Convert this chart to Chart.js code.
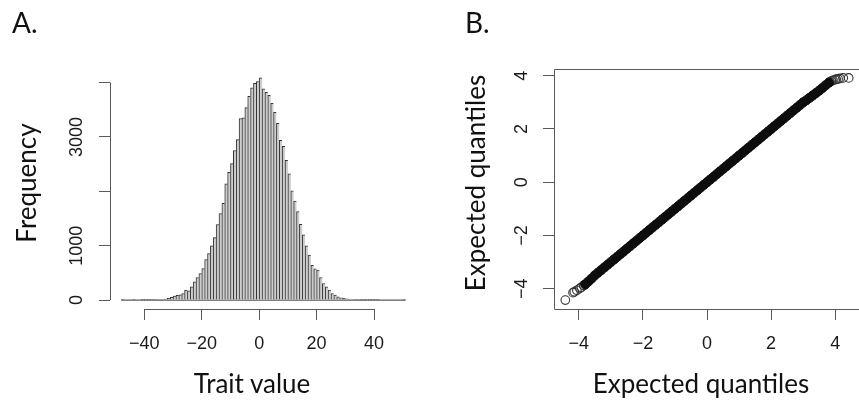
<!DOCTYPE html>
<html>
<head>
<meta charset="utf-8">
<script src="https://cdn.jsdelivr.net/npm/chart.js@4.4.1/dist/chart.umd.min.js"></script>
<style>
  html, body { margin: 0; padding: 0; background: #fff; overflow: hidden; }
  #wrap { position: relative; width: 859px; height: 406px; overflow: hidden; }
  #boxA { position: absolute; left: 0; top: 0; width: 430px; height: 406px; }
  #boxB { position: absolute; left: 430px; top: 0; width: 440px; height: 406px; }
  .lbl { position: absolute; font-family: Lato, sans-serif; color: #111; white-space: nowrap; }
  .panel { font-size: 28px; line-height: 28px; top: 8px; }
  .xt { font-size: 26px; line-height: 26px; top: 370px; width: 300px; text-align: center; }
  .yt { font-size: 26px; line-height: 26px; width: 300px; height: 26px; text-align: center; transform: rotate(-90deg); }
</style>
</head>
<body>
<div id="wrap">
  <div id="boxA"><canvas id="histChart"></canvas></div>
  <div id="boxB"><canvas id="qqChart"></canvas></div>
  <div class="lbl panel" style="left:12px">A.</div>
  <div class="lbl panel" style="left:465px">B.</div>
  <div class="lbl xt" style="left:102px">Trait value</div>
  <div class="lbl xt" style="left:551px">Expected quantiles</div>
  <div class="lbl yt" style="left:-124px; top:170px">Frequency</div>
  <div class="lbl yt" style="left:325px; top:170px">Expected quantiles</div>
</div>
<script>
// Panel A: histogram of trait values, bins of width 1 starting at binStart
const binStart = -48;
const binCounts = [
  1, 0, 0, 0, 1, 0, 0, 1, 2, 1, 2, 3, 5, 7, 11, 18, 31, 49, 73, 88,
  96, 122, 183, 171, 245, 336, 415, 489, 581, 746, 856, 1000, 1150, 1390, 1590, 1780, 2140, 2350, 2510, 2750,
  2950, 3340, 3350, 3540, 3745, 3905, 3985, 4020, 4086, 3884, 3820, 3765, 3620, 3455, 3250, 2936, 2826, 2569,
  2320, 2010, 1820, 1630, 1395, 1200, 1000, 826, 640, 575, 550, 416, 306, 245, 183, 122, 92, 61, 43, 31,
  24, 18, 12, 8, 6, 4, 3, 2, 1, 1, 1, 1, 0, 0, 0, 0, 0, 0, 0, 0, 1
];
const histXTicks = [-40, -20, 0, 20, 40];
const histYTicks = [0, 1000, 2000, 3000, 4000];
const histYLabels = ['0', '1000', '', '3000', ''];

// Panel B: normal QQ plot, dense middle part and the sparse extreme points
const qqX = [
  -3.8, -3.7, -3.6, -3.5, -3.4, -3.3, -3.2, -3.1, -3.0, -2.9, -2.8, -2.7, -2.6, -2.5, -2.4, -2.3,
  -2.2, -2.1, -2.0, -1.9, -1.8, -1.7, -1.6, -1.5, -1.4, -1.3, -1.2, -1.1, -1.0, -0.9, -0.8, -0.7,
  -0.6, -0.5, -0.4, -0.3, -0.2, -0.1, 0.0, 0.1, 0.2, 0.3, 0.4, 0.5, 0.6, 0.7, 0.8, 0.9,
  1.0, 1.1, 1.2, 1.3, 1.4, 1.5, 1.6, 1.7, 1.8, 1.9, 2.0, 2.1, 2.2, 2.3, 2.4, 2.5,
  2.6, 2.7, 2.8, 2.9, 3.0, 3.1, 3.2, 3.3, 3.4, 3.5, 3.6, 3.7, 3.8
];
const qqY = [
  -3.84, -3.73, -3.62, -3.5, -3.4, -3.3, -3.2, -3.1, -3.0, -2.9, -2.8, -2.7, -2.6, -2.5, -2.4, -2.3,
  -2.2, -2.1, -2.0, -1.9, -1.8, -1.7, -1.6, -1.5, -1.4, -1.3, -1.2, -1.1, -1.0, -0.9, -0.8, -0.7,
  -0.6, -0.5, -0.4, -0.3, -0.2, -0.1, 0.0, 0.1, 0.2, 0.3, 0.4, 0.5, 0.6, 0.7, 0.8, 0.9,
  1.0, 1.1, 1.2, 1.3, 1.4, 1.5, 1.6, 1.7, 1.8, 1.9, 2.0, 2.1, 2.2, 2.3, 2.4, 2.5,
  2.6, 2.7, 2.8, 2.9, 3.0, 3.08, 3.17, 3.26, 3.35, 3.44, 3.54, 3.64, 3.74
];
const tailX = [-4.42, -4.18, -4.14, -4.06, -3.97, -3.92, -3.85, 3.83, 3.88, 3.93, 3.99, 4.03, 4.09, 4.15, 4.25, 4.42];
const tailY = [-4.43, -4.15, -4.12, -4.06, -3.99, -3.95, -3.88, 3.76, 3.80, 3.83, 3.85, 3.87, 3.88, 3.90, 3.92, 3.92];
const qqTicks = [-4, -2, 0, 2, 4];

// R style axis range: data range widened by 4% on each side
function rRange(lo, hi) {
    const d = (hi - lo) * 0.04;
    return [lo - d, hi + d];
}
const fmt = v => v < 0 ? '\u2212' + Math.abs(v) : String(v);

const tickFont = { family: 'Liberation Sans', size: 18 };
const tickColor = '#1a1a1a';
const lineGrey = '#5a5a5a';

// draws the R axis lines: from first to last tick, or a box around the plot
const rAxes = {
    id: 'rAxes',
    afterDraw(chart, args, opts) {
        const { ctx, chartArea: a, scales: { x, y } } = chart;
        ctx.save();
        ctx.strokeStyle = lineGrey;
        ctx.lineWidth = 1;
        ctx.beginPath();
        if (opts.box) {
            ctx.rect(Math.round(a.left) + 0.5, Math.round(a.top) + 0.5, a.right - a.left, a.bottom - a.top);
        } else {
            const b = Math.round(a.bottom) + 0.5, l = Math.round(a.left) + 0.5;
            const xt = x.ticks, yt = y.ticks;
            ctx.moveTo(x.getPixelForValue(xt[0].value), b);
            ctx.lineTo(x.getPixelForValue(xt[xt.length - 1].value), b);
            ctx.moveTo(l, y.getPixelForValue(yt[0].value));
            ctx.lineTo(l, y.getPixelForValue(yt[yt.length - 1].value));
        }
        ctx.stroke();
        ctx.restore();
    }
};

const tickGrid = { drawOnChartArea: false, drawTicks: true, tickLength: 11, color: lineGrey, offset: false };

// Panel A
const binMids = binCounts.map((c, i) => binStart + i + 0.5);
const histX = rRange(binStart, binStart + binCounts.length);
const histY = rRange(0, Math.max(...binCounts));

new Chart(document.getElementById('histChart'), {
    type: 'bar',
    data: {
        datasets: [{
            data: binMids.map((m, i) => ({ x: m, y: binCounts[i] })),
            backgroundColor: '#cdcdcd',
            borderColor: '#333',
            borderWidth: { left: 1, right: 0, top: 1, bottom: 0 },
            borderSkipped: false,
            barPercentage: 1,
            categoryPercentage: 1
        }, {
            type: 'line',
            data: [{ x: binStart, y: 0 }, { x: binStart + binCounts.length, y: 0 }],
            borderColor: '#333',
            borderWidth: 1,
            pointRadius: 0
        }]
    },
    options: {
        responsive: true,
        maintainAspectRatio: false,
        animation: false,
        layout: { padding: { top: 69, left: 0, right: 13, bottom: 0 } },
        plugins: { legend: { display: false }, tooltip: { enabled: false }, rAxes: { box: false } },
        scales: {
            x: {
                type: 'linear', min: histX[0], max: histX[1], offset: false,
                afterFit: s => { s.height = 97; },
                afterBuildTicks: s => { s.ticks = histXTicks.map(v => ({ value: v })); },
                grid: tickGrid,
                border: { display: false },
                ticks: { color: tickColor, font: tickFont, padding: 13, maxRotation: 0, autoSkip: false, callback: fmt }
            },
            y: {
                type: 'linear', min: histY[0], max: histY[1],
                afterFit: s => { s.width = 110; },
                afterBuildTicks: s => { s.ticks = histYTicks.map(v => ({ value: v })); },
                grid: tickGrid,
                border: { display: false },
                ticks: { color: tickColor, font: tickFont, padding: 1.5, minRotation: 90, crossAlign: 'center', autoSkip: false,
                         callback: (v, i) => histYLabels[i] }
            }
        }
    },
    plugins: [rAxes]
});

// Panel B
const allX = qqX.concat(tailX), allY = qqY.concat(tailY);
const qqXr = rRange(Math.min(...allX), Math.max(...allX));
const qqYr = rRange(Math.min(...allY), Math.max(...allY));

new Chart(document.getElementById('qqChart'), {
    type: 'scatter',
    data: {
        datasets: [{
            data: qqX.map((v, i) => ({ x: v, y: qqY[i] })),
            pointRadius: 4.6,
            pointBorderWidth: 1,
            pointBackgroundColor: '#0d0d0d',
            pointBorderColor: '#0d0d0d'
        }, {
            data: tailX.map((v, i) => ({ x: v, y: tailY[i] })),
            pointRadius: 4.3,
            pointBorderWidth: 1.1,
            pointBackgroundColor: 'rgba(0,0,0,0)',
            pointBorderColor: '#333'
        }]
    },
    options: {
        responsive: true,
        maintainAspectRatio: false,
        animation: false,
        layout: { padding: { top: 69, left: 0, right: 10, bottom: 0 } },
        plugins: { legend: { display: false }, tooltip: { enabled: false }, rAxes: { box: true } },
        scales: {
            x: {
                type: 'linear', min: qqXr[0], max: qqXr[1],
                afterFit: s => { s.height = 97; },
                afterBuildTicks: s => { s.ticks = qqTicks.map(v => ({ value: v })); },
                grid: tickGrid,
                border: { display: false },
                ticks: { color: tickColor, font: tickFont, padding: 13, maxRotation: 0, autoSkip: false, callback: fmt }
            },
            y: {
                type: 'linear', min: qqYr[0], max: qqYr[1],
                afterFit: s => { s.width = 124; },
                afterBuildTicks: s => { s.ticks = qqTicks.map(v => ({ value: v })); },
                grid: tickGrid,
                border: { display: false },
                ticks: { color: tickColor, font: tickFont, padding: 10.7, minRotation: 90, crossAlign: 'center', autoSkip: false,
                         callback: fmt }
            }
        }
    },
    plugins: [rAxes]
});
</script>
</body>
</html>
